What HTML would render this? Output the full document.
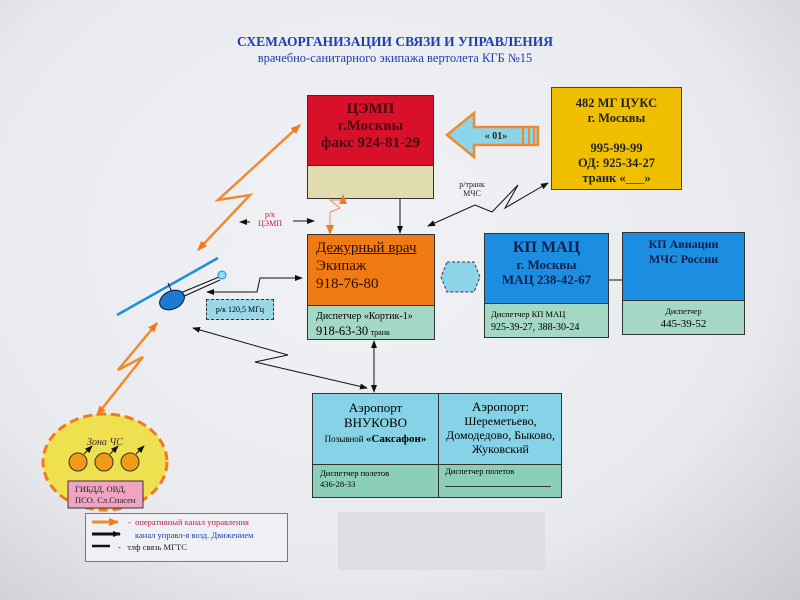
<!DOCTYPE html>
<html><head><meta charset="utf-8"><style>
body{margin:0;width:800px;height:600px;overflow:hidden;background:#e9ebef;font-family:"Liberation Serif","Noto Serif CJK SC",serif;}
.a{position:absolute;box-sizing:border-box;}
.c{text-align:center;}
</style></head><body>
<div class="a" style="left:0;top:0;width:800px;height:600px;background:radial-gradient(ellipse at 45% 40%,#f1f2f5 0%,#e8eaee 65%,#c9cbd0 100%);"></div>
<div class="a c" style="left:200px;top:34px;width:390px;font-weight:bold;font-size:13.5px;color:#1c3fae;">СХЕМАОРГАНИЗАЦИИ СВЯЗИ И УПРАВЛЕНИЯ</div>
<div class="a c" style="left:200px;top:51px;width:390px;font-size:12.5px;color:#1c3fae;">врачебно-санитарного экипажа вертолета КГБ №15</div>

<!-- ЦЭМП -->
<div class="a" style="left:307px;top:95px;width:127px;height:104px;border:1px solid #333;background:#e0dcb0;">
<div class="c" style="background:#d8102a;height:70px;border-bottom:1px solid #333;font-weight:bold;color:#4a0a10;font-size:15px;line-height:17px;padding-top:5px;box-sizing:border-box;">ЦЭМП<br>г.Москвы<br>факс 924-81-29</div></div>

<!-- 482 -->
<div class="a c" style="left:551px;top:87px;width:131px;height:103px;border:1px solid #444;background:#f0c000;font-weight:bold;font-size:12.5px;line-height:15px;color:#222;padding-top:8px;">482 МГ ЦУКС<br>г. Москвы<br><br>995-99-99<br>ОД: 925-34-27<br>транк «<span style="color:#c02020">___</span>»</div>

<!-- Дежурный -->
<div class="a" style="left:307px;top:234px;width:128px;height:106px;border:1px solid #333;background:#a4d8c4;">
<div style="background:#f07a14;height:71px;border-bottom:1px solid #333;font-size:15px;line-height:18px;padding:4px 0 0 8px;box-sizing:border-box;color:#2a1000;"><u>Дежурный врач</u><br>Экипаж<br>918-76-80</div>
<div style="font-size:10px;padding:4px 0 0 8px;line-height:14px;">Диспетчер «Кортик-1»<br><span style="font-size:12.5px">918-63-30</span> <span style="font-size:8px">транк</span></div></div>

<!-- КП МАЦ -->
<div class="a" style="left:484px;top:233px;width:125px;height:105px;border:1px solid #333;background:#a4d8c4;">
<div class="c" style="background:#1c8ee2;height:70px;border-bottom:1px solid #333;font-weight:bold;font-size:13px;line-height:15px;padding-top:4px;box-sizing:border-box;color:#10204a;"><span style="font-size:16px;line-height:19px">КП МАЦ</span><br>г. Москвы<br>МАЦ 238-42-67</div>
<div style="font-size:8.5px;padding:4px 0 0 6px;line-height:13px;">Диспетчер КП МАЦ<br><span style="font-size:10px">925-39-27, 388-30-24</span></div></div>

<!-- КП Авиации -->
<div class="a" style="left:622px;top:232px;width:123px;height:103px;border:1px solid #333;background:#a4d8c4;">
<div class="c" style="background:#1c8ee2;height:68px;border-bottom:1px solid #333;font-weight:bold;font-size:12px;line-height:15px;padding-top:4px;box-sizing:border-box;color:#10204a;">КП Авиации<br>МЧС России</div>
<div class="c" style="font-size:8px;padding-top:4px;line-height:13px;">Диспетчер<br><span style="font-size:11px">445-39-52</span></div></div>

<!-- Airport -->
<div class="a" style="left:312px;top:393px;width:250px;height:105px;border:1px solid #333;background:#8ccfb8;">
<div style="position:absolute;left:0;top:0;width:248px;height:70px;background:#86d2e6;border-bottom:1px solid #333;"></div>
<div style="position:absolute;left:125px;top:0;width:1px;height:103px;background:#333;"></div>
<div class="c" style="position:absolute;left:0;top:6px;width:125px;font-size:13px;line-height:15px;">Аэропорт<br>ВНУКОВО<br><span style="font-size:9px">Позывной <b style="font-size:11px">«Саксафон»</b></span></div>
<div class="c" style="position:absolute;left:126px;top:6px;width:123px;font-size:12px;line-height:14px;"><span style="font-size:13px">Аэропорт:</span><br>Шереметьево,<br>Домодедово, Быково,<br>Жуковский</div>
<div style="position:absolute;left:7px;top:74px;font-size:8.5px;line-height:11px;">Диспетчер полетов<br>436-28-33</div>
<div style="position:absolute;left:132px;top:72px;font-size:8.5px;">Диспетчер полетов</div>
<div style="position:absolute;left:132px;top:92px;width:106px;height:1px;background:#333;"></div>
</div>

<!-- gray rect -->
<div class="a" style="left:338px;top:512px;width:207px;height:58px;background:#dcdee2;"></div>

<!-- Legend -->
<div class="a" style="left:85px;top:513px;width:203px;height:49px;border:1px solid #4a7ed0;background:#eef0f4;"></div>
<div class="a" style="left:128px;top:517px;font-size:8.5px;color:#c0204a;">- &nbsp;оперативный канал управления</div>
<div class="a" style="left:135px;top:530px;font-size:8.5px;color:#1c3fae;">канал управл-я возд. Движением</div>
<div class="a" style="left:118px;top:542px;font-size:8.5px;color:#222;">- &nbsp;&nbsp;тлф связь МГТС</div>

<!-- labels -->
<div class="a c" style="left:250px;top:210px;width:40px;font-size:8px;line-height:9px;color:#c0204a;">р/к<br>ЦЭМП</div>
<div class="a c" style="left:450px;top:180px;width:44px;font-size:8px;line-height:9px;color:#222;">р/транк<br>МЧС</div>
<div class="a c" style="left:206px;top:299px;width:68px;height:21px;border:1px dashed #333;background:#9ad8e8;font-size:8px;line-height:19px;">р/к 120,5 МГц</div>

<svg class="a" style="left:0;top:0" width="800" height="600">
<defs>
<marker id="ab" markerWidth="8" markerHeight="8" refX="7" refY="4" orient="auto-start-reverse" markerUnits="userSpaceOnUse"><path d="M0,1L8,4L0,7z" fill="#111"/></marker>
<marker id="ao" markerWidth="10" markerHeight="10" refX="9" refY="5" orient="auto-start-reverse" markerUnits="userSpaceOnUse"><path d="M0,1L10,5L0,9z" fill="#f07a20"/></marker>
</defs>
<!-- zone -->
<ellipse cx="105" cy="462" rx="62" ry="48" fill="#efe050" stroke="#f07a20" stroke-width="3" stroke-dasharray="9,5"/>
<text x="105" y="445" font-size="10" font-style="italic" text-anchor="middle" font-family="Liberation Serif" fill="#333">Зона ЧС</text>
<g fill="#f09a18" stroke="#333"><circle cx="78" cy="462" r="9"/><circle cx="104" cy="462" r="9"/><circle cx="130" cy="462" r="9"/></g>
<g stroke="#111" marker-end="url(#ab)"><line x1="84" y1="454" x2="92" y2="446"/><line x1="110" y1="454" x2="118" y2="446"/><line x1="136" y1="454" x2="144" y2="446"/></g>
<rect x="68" y="481" width="75" height="27" fill="#f0a4c4" stroke="#333"/>
<text x="75" y="492" font-size="8.5" font-family="Liberation Serif" fill="#222">ГИБДД, ОВД,</text>
<text x="75" y="503" font-size="8.5" font-family="Liberation Serif" fill="#222">ПСО. Сл.Спасен</text>
<!-- helicopter -->
<line x1="117" y1="315" x2="218" y2="258" stroke="#1e8ee0" stroke-width="2.5"/>
<line x1="168" y1="283" x2="172" y2="292" stroke="#111"/>
<line x1="178" y1="294" x2="219" y2="277" stroke="#111"/>
<line x1="180" y1="298" x2="220" y2="280" stroke="#111"/>
<ellipse cx="172" cy="300" rx="13" ry="9" fill="#1c7ad0" stroke="#113" transform="rotate(-25 172 300)"/>
<circle cx="222" cy="275" r="4" fill="#9ad8f0" stroke="#1e8ee0"/>
<!-- orange zigzags -->
<polyline points="300,125 218,200 250,195 198,250" fill="none" stroke="#f08a30" stroke-width="2.5" marker-start="url(#ao)" marker-end="url(#ao)"/>
<polyline points="157,323 118,370 143,357 97,415" fill="none" stroke="#f08a30" stroke-width="2.5" marker-start="url(#ao)" marker-end="url(#ao)"/>
<polyline points="330,234 330,212 340,208 330,200 343,200 343,195" fill="none" stroke="#f08a60" stroke-width="1" marker-start="url(#ao)" marker-end="url(#ao)"/>
<!-- black arrows -->
<line x1="240" y1="222" x2="250" y2="222" stroke="#111" marker-start="url(#ab)"/>
<line x1="293" y1="221" x2="314" y2="221" stroke="#111" marker-end="url(#ab)"/>
<line x1="400" y1="199" x2="400" y2="233" stroke="#111" marker-end="url(#ab)"/>
<polyline points="428,226 475,205 492,212 518,185 505,208 548,183" fill="none" stroke="#111" marker-start="url(#ab)" marker-end="url(#ab)"/>
<polyline points="207,292 257,292 260,278 302,278" fill="none" stroke="#111" marker-start="url(#ab)" marker-end="url(#ab)"/>
<polyline points="193,328 288,355 255,362 367,388" fill="none" stroke="#111" marker-start="url(#ab)" marker-end="url(#ab)"/>
<line x1="374" y1="341" x2="374" y2="392" stroke="#111" marker-start="url(#ab)" marker-end="url(#ab)"/>
<line x1="609" y1="280" x2="622" y2="280" stroke="#111"/>
<!-- dashed double arrow -->
<path d="M447,262 L474,262 L480,277 L474,292 L447,292 L441,277z" fill="#8cd4e8" stroke="#335" stroke-dasharray="3,2"/>
<!-- 01 arrow -->
<path d="M447,135 L474,113 L474,127 L538,127 L538,145 L474,145 L474,157z" fill="#8cd4e8" stroke="#f08a30" stroke-width="2.5"/>
<g stroke="#f08a30" stroke-width="2"><line x1="523" y1="127" x2="523" y2="145"/><line x1="529" y1="127" x2="529" y2="145"/><line x1="534" y1="127" x2="534" y2="145"/></g>
<text x="496" y="139" font-size="10" font-weight="bold" text-anchor="middle" font-family="Liberation Serif" fill="#222">« 01»</text>
<!-- legend symbols -->
<line x1="92" y1="522" x2="118" y2="522" stroke="#f08a30" stroke-width="3" marker-end="url(#ao)"/>
<line x1="92" y1="534" x2="120" y2="534" stroke="#111" stroke-width="3" marker-end="url(#ab)"/>
<line x1="92" y1="546" x2="110" y2="546" stroke="#111" stroke-width="2.5"/>
</svg>
</body></html>
